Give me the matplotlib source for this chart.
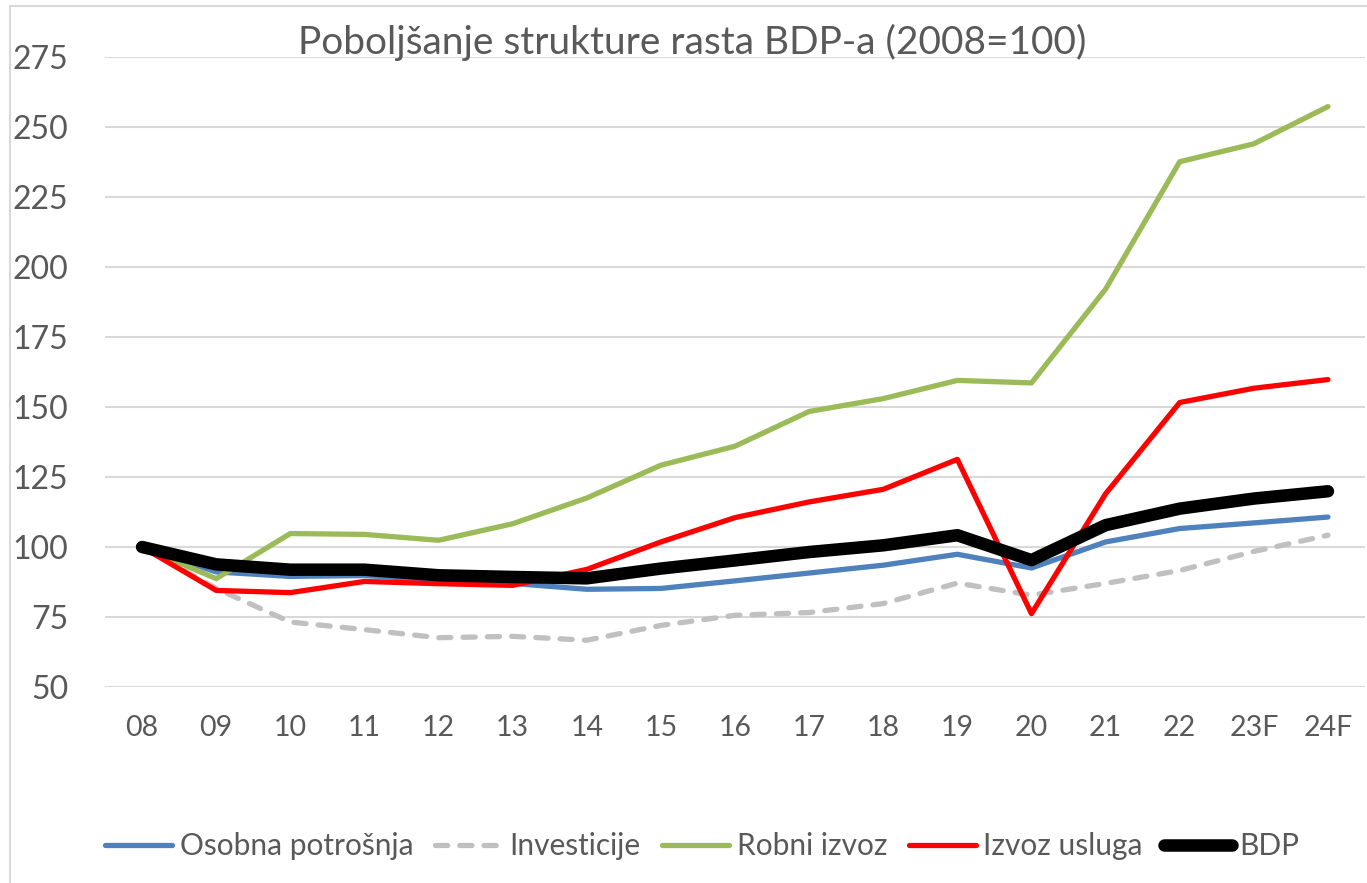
import numpy as np
import matplotlib
matplotlib.use("Agg")
import matplotlib.pyplot as plt
from matplotlib.lines import Line2D

plt.rcParams['font.family'] = ['Lato', 'DejaVu Sans']

years = ['08', '09', '10', '11', '12', '13', '14', '15', '16', '17', '18', '19', '20', '21', '22', '23F', '24F']

osobna_potrosnja = [100, 91.1, 89.5, 89.8, 88.3, 87.0, 84.9, 85.2, 87.9, 90.7, 93.5, 97.4, 92.5, 101.8, 106.6, 108.6, 110.7]
investicije = [100, 85.2, 73.2, 70.5, 67.6, 68.1, 66.7, 72.0, 75.6, 76.6, 79.8, 87.1, 82.8, 87.0, 91.6, 98.4, 104.2]
robni_izvoz = [100, 88.7, 104.8, 104.5, 102.4, 108.3, 117.5, 129.2, 136.0, 148.4, 153.0, 159.5, 158.6, 192.1, 237.6, 244.0, 257.3]
izvoz_usluga = [100, 84.5, 83.7, 87.7, 86.9, 86.3, 92.0, 101.8, 110.5, 116.1, 120.6, 131.3, 76.2, 119.0, 151.6, 156.7, 159.8]
bdp = [100, 93.8, 91.9, 91.9, 89.9, 89.3, 88.8, 92.3, 95.2, 98.2, 100.6, 104.2, 95.3, 107.8, 113.7, 117.3, 119.9]

W, H = 1367, 883
fig = plt.figure(figsize=(W / 100, H / 100), dpi=100)
ax = fig.add_axes([105 / W, 1 - 687 / H, 1260 / W, 630 / H])

x = np.arange(len(years))
text_col = '#595959'
lw = 3.8
dash = (2.3, 2.3)

ax.plot(x, osobna_potrosnja, color='#4f81bd', lw=lw, solid_capstyle='round', solid_joinstyle='round')
ax.plot(x, investicije, color='#c0c0c0', lw=lw, dashes=dash, dash_capstyle='round', dash_joinstyle='round')
ax.plot(x, robni_izvoz, color='#9bbb59', lw=lw, solid_capstyle='round', solid_joinstyle='round')
ax.plot(x, izvoz_usluga, color='#ff0000', lw=lw, solid_capstyle='round', solid_joinstyle='round')
ax.plot(x, bdp, color='#000000', lw=9, solid_capstyle='round', solid_joinstyle='round')

ax.set_xlim(-0.5, len(years) - 0.5)
ax.set_ylim(50, 275)
ax.set_yticks(np.arange(50, 276, 25))
ax.set_xticks(x)
ax.set_xticklabels(years)
ax.yaxis.grid(True, color='#d9d9d9', lw=1.5)
ax.set_axisbelow(True)
for s in ax.spines.values():
    s.set_visible(False)
ax.tick_params(axis='both', length=0, colors=text_col)
ax.tick_params(axis='y', pad=26.5, labelsize=23)
ax.tick_params(axis='x', pad=20, labelsize=20.5)

fig.text(692 / W, 1 - 42 / H, 'Poboljšanje strukture rasta BDP-a (2008=100)',
         ha='center', va='center', fontsize=28, color=text_col)

# chart-area border (left and top edges visible)
fig.add_artist(Line2D([10 / W, 10 / W], [0, 1 - 6 / H], color='#d9d9d9', lw=1.5, transform=fig.transFigure))
fig.add_artist(Line2D([10 / W, 1], [1 - 6 / H, 1 - 6 / H], color='#d9d9d9', lw=1.5, transform=fig.transFigure))

handles = [
    Line2D([], [], color='#4f81bd', lw=lw, solid_capstyle='round'),
    Line2D([], [], color='#c0c0c0', lw=lw, dashes=dash, dash_capstyle='round'),
    Line2D([], [], color='#9bbb59', lw=lw, solid_capstyle='round'),
    Line2D([], [], color='#ff0000', lw=lw, solid_capstyle='round'),
    Line2D([], [], color='#000000', lw=9, solid_capstyle='round'),
]
labels = ['Osobna potrošnja', 'Investicije', 'Robni izvoz', 'Izvoz usluga', 'BDP']
leg = fig.legend(handles, labels, loc='center', bbox_to_anchor=(702 / W, 1 - 846 / H), ncol=5,
                 frameon=False, fontsize=21.5, handlelength=2.25, handletextpad=0.25, columnspacing=0.72)
for t in leg.get_texts():
    t.set_color(text_col)

fig.savefig('out.png', dpi=100)
